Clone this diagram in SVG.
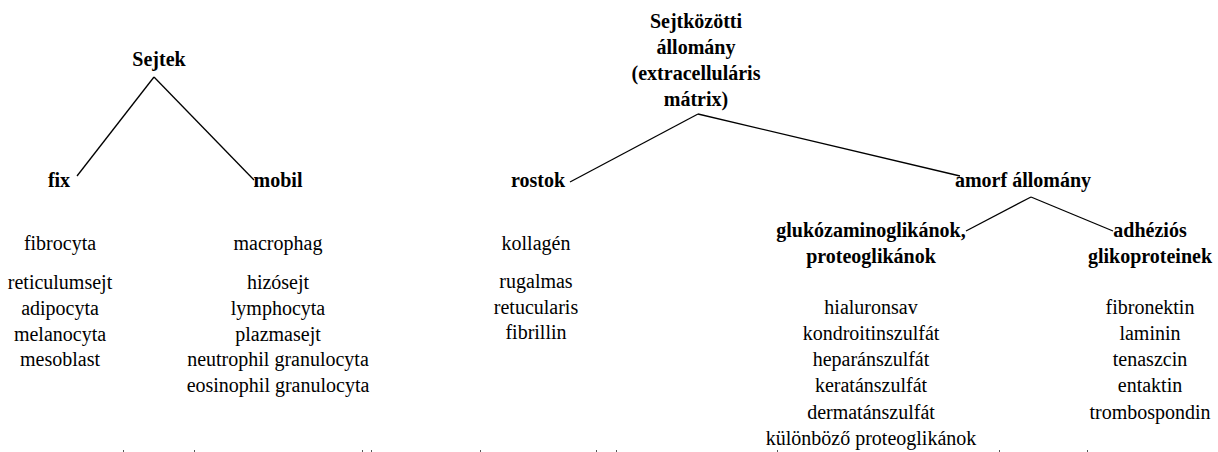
<svg xmlns="http://www.w3.org/2000/svg" width="1218" height="452" viewBox="0 0 1218 452">
<style>
text{font-family:"Liberation Serif","Times New Roman",serif;font-size:20px;fill:#000;text-anchor:middle}
.b{font-weight:bold}
.c line{stroke:#000;stroke-width:1.3;fill:none}
.t{fill:#555}
</style>
<rect width="1218" height="452" fill="#fff"/>
<g id="connectors" class="c">
<line x1="154" y1="77" x2="77" y2="176"/>
<line x1="154" y1="77" x2="254" y2="180"/>
<line x1="698" y1="114" x2="570" y2="182"/>
<line x1="698" y1="114" x2="960" y2="176"/>
<line x1="1031" y1="197" x2="966" y2="231"/>
<line x1="1031" y1="197" x2="1113" y2="231"/>
</g>
<g id="sejtek"><text class="b" x="159" y="66">Sejtek</text></g>
<g id="fix"><text class="b" x="59" y="187">fix</text></g>
<g id="mobil"><text class="b" x="278" y="187">mobil</text></g>
<g id="fix-list">
<text x="60" y="250">fibrocyta</text>
<text x="60" y="289">reticulumsejt</text>
<text x="60" y="315">adipocyta</text>
<text x="60" y="341">melanocyta</text>
<text x="60" y="366">mesoblast</text>
</g>
<g id="mobil-list">
<text x="278" y="250">macrophag</text>
<text x="278" y="289">hizósejt</text>
<text x="278" y="315">lymphocyta</text>
<text x="278" y="341">plazmasejt</text>
<text x="278" y="366">neutrophil granulocyta</text>
<text x="278" y="392">eosinophil granulocyta</text>
</g>
<g id="sejtkozotti">
<text class="b" x="696" y="28">Sejtközötti</text>
<text class="b" x="696" y="54">állomány</text>
<text class="b" x="696" y="80">(extracelluláris</text>
<text class="b" x="696" y="106">mátrix)</text>
</g>
<g id="rostok"><text class="b" x="538" y="187">rostok</text></g>
<g id="amorf"><text class="b" x="1023" y="187">amorf állomány</text></g>
<g id="glukozaminoglikanok">
<text class="b" x="871" y="237">glukózaminoglikánok,</text>
<text class="b" x="871" y="263">proteoglikánok</text>
</g>
<g id="adhezios">
<text class="b" x="1150" y="237">adhéziós</text>
<text class="b" x="1150" y="263">glikoproteinek</text>
</g>
<g id="rostok-list">
<text x="536" y="250">kollagén</text>
<text x="536" y="288">rugalmas</text>
<text x="536" y="314">retucularis</text>
<text x="536" y="339">fibrillin</text>
</g>
<g id="gag-list">
<text x="871" y="314">hialuronsav</text>
<text x="871" y="340">kondroitinszulfát</text>
<text x="871" y="366">heparánszulfát</text>
<text x="871" y="392">keratánszulfát</text>
<text x="871" y="419">dermatánszulfát</text>
<text x="871" y="445">különböző proteoglikánok</text>
</g>
<g id="adhezios-list">
<text x="1150" y="314">fibronektin</text>
<text x="1150" y="340">laminin</text>
<text x="1150" y="366">tenaszcin</text>
<text x="1150" y="392">entaktin</text>
<text x="1150" y="419">trombospondin</text>
</g>
<g id="ticks" class="t">
<rect x="123" y="450" width="1" height="2"/>
<rect x="194" y="450" width="1" height="2"/>
<rect x="362" y="450" width="1" height="2"/>
<rect x="371" y="450" width="1" height="2"/>
<rect x="480" y="450" width="1" height="2"/>
<rect x="596" y="450" width="1" height="2"/>
<rect x="616" y="450" width="1" height="2"/>
<rect x="777" y="450" width="1" height="2"/>
<rect x="999" y="450" width="1" height="2"/>
<rect x="1087" y="450" width="1" height="2"/>
</g>
</svg>
